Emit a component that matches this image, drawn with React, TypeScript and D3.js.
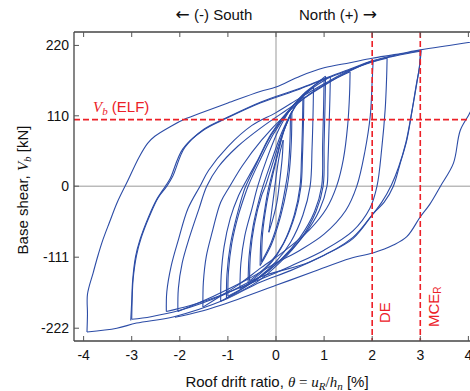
import React from "react";
import * as d3 from "d3";

// axis ticks
const X_TICKS = [-4, -3, -2, -1, 0, 1, 2, 3, 4];
const Y_TICKS = [-222, -111, 0, 110, 220];

// reference levels
const ELF_SHEAR = 104;
const DE_DRIFT = 2;
const MCE_DRIFT = 3;

// hysteresis branches [drift %, base shear kN]
const up015 = [[-0.15, -72], [-0.1, -45], [-0.04, -10], [0.03, 30], [0.09, 55], [0.15, 72]];
const down015 = [[0.15, 72], [0.13, 45], [0.08, 10], [0.02, -25], [-0.06, -50], [-0.15, -72]];
const up030a = [[-0.3, -118], [-0.28, -75], [-0.2, -30], [-0.12, 0], [0.02, 45], [0.16, 85], [0.3, 112]];
const down030a = [[0.3, 112], [0.29, 70], [0.25, 25], [0.2, 0], [0.08, -45], [-0.1, -88], [-0.3, -118]];
const up030b = [[-0.33, -124], [-0.31, -80], [-0.23, -35], [-0.16, -5], [0, 42], [0.15, 84], [0.33, 117]];
const down030b = [[0.33, 117], [0.32, 72], [0.28, 25], [0.23, -2], [0.1, -46], [-0.1, -92], [-0.33, -124]];
const up056a = [[-0.55, -148], [-0.53, -105], [-0.45, -60], [-0.3, -15], [-0.22, 0], [-0.05, 40], [0.15, 85], [0.38, 122], [0.56, 140]];
const down056a = [[0.56, 140], [0.55, 95], [0.53, 45], [0.5, 0], [0.38, -45], [0.15, -90], [-0.15, -122], [-0.55, -148]];
const up056b = [[-0.58, -152], [-0.56, -110], [-0.48, -64], [-0.34, -18], [-0.27, 0], [-0.1, 38], [0.12, 84], [0.36, 120], [0.58, 143]];
const down056b = [[0.58, 143], [0.57, 98], [0.55, 46], [0.52, 0], [0.4, -44], [0.17, -88], [-0.15, -124], [-0.58, -152]];
const up078 = [[-0.75, -160], [-0.73, -120], [-0.65, -78], [-0.5, -35], [-0.38, 0], [-0.18, 45], [0.08, 92], [0.4, 130], [0.78, 155]];
const down078 = [[0.78, 155], [0.77, 112], [0.75, 60], [0.71, 0], [0.56, -45], [0.3, -88], [0, -118], [-0.35, -142], [-0.75, -160]];
const up100a = [[-1.0, -172], [-0.99, -135], [-0.92, -90], [-0.78, -45], [-0.62, -8], [-0.58, 0], [-0.35, 38], [-0.05, 82], [0.3, 120], [0.6, 146], [1.0, 168]];
const down100a = [[1.0, 168], [0.99, 125], [0.97, 65], [0.95, 0], [0.8, -40], [0.5, -80], [0.1, -115], [-0.4, -146], [-1.0, -172]];
const up100b = [[-1.03, -175], [-1.02, -138], [-0.95, -92], [-0.82, -48], [-0.67, -8], [-0.63, 0], [-0.4, 36], [-0.1, 80], [0.3, 121], [0.65, 148], [1.03, 172]];
const down100b = [[1.03, 172], [1.02, 128], [1.0, 66], [0.98, 0], [0.83, -40], [0.52, -82], [0.1, -118], [-0.4, -150], [-1.03, -175]];
const up113 = [[-1.15, -180], [-1.14, -140], [-1.08, -95], [-0.95, -50], [-0.78, -15], [-0.68, 0], [-0.4, 38], [-0.1, 82], [0.3, 122], [0.7, 150], [1.13, 171]];
const down113 = [[1.13, 171], [1.12, 135], [1.1, 85], [1.08, 35], [1.06, 0], [0.9, -38], [0.6, -75], [0.2, -108], [-0.3, -140], [-0.8, -165], [-1.15, -180]];
const up150 = [[-1.52, -189], [-1.51, -150], [-1.45, -110], [-1.32, -70], [-1.15, -25], [-0.96, 0], [-0.7, 32], [-0.3, 72], [0.2, 112], [0.7, 144], [1.1, 163], [1.54, 179]];
const down150 = [[1.54, 179], [1.53, 145], [1.49, 95], [1.4, 42], [1.26, 0], [1.05, -35], [0.7, -68], [0.2, -100], [-0.3, -127], [-0.8, -155], [-1.2, -174], [-1.52, -189]];
const up200 = [[-2.04, -196], [-2.03, -160], [-1.95, -120], [-1.8, -80], [-1.6, -35], [-1.44, 0], [-1.2, 30], [-0.8, 62], [-0.3, 92], [0.2, 118], [0.8, 148], [1.4, 175], [2.02, 197]];
const down200 = [[2.02, 197], [2.0, 165], [1.96, 110], [1.85, 55], [1.68, 0], [1.45, -38], [1.0, -75], [0.5, -100], [0, -120], [-0.6, -146], [-1.3, -172], [-2.04, -196]];
const up230 = [[-2.28, -196], [-2.27, -165], [-2.18, -125], [-2.03, -84], [-1.83, -35], [-1.58, 0], [-1.4, 25], [-1.0, 62], [-0.5, 95], [0, 115], [0.5, 138], [1.0, 160], [1.5, 180], [2.0, 194], [2.31, 200]];
const down230 = [[2.31, 200], [2.3, 170], [2.27, 120], [2.2, 60], [2.1, 0], [1.95, -35], [1.6, -70], [1.0, -100], [0.3, -125], [-0.4, -148], [-1.2, -172], [-1.8, -187], [-2.28, -196]];
const up300a = [[-3.02, -210], [-3.0, -180], [-2.98, -147], [-2.92, -110], [-2.83, -84], [-2.65, -48], [-2.49, -22], [-2.3, 0], [-2.2, 12], [-1.94, 58], [-1.52, 87], [-1.03, 106], [-0.33, 130], [0.5, 152], [1.0, 167], [1.54, 182], [2.0, 195], [2.5, 204], [3.0, 211]];
const down300a = [[3.0, 211], [2.98, 185], [2.93, 162], [2.83, 118], [2.72, 72], [2.58, 35], [2.44, 0], [2.25, -25], [2.03, -42], [1.6, -80], [0.71, -118], [-0.33, -142], [-1.1, -170], [-2.0, -194], [-2.6, -204], [-3.0, -208]];
const up300b = [[-3.0, -208], [-2.99, -175], [-2.97, -145], [-2.9, -108], [-2.8, -80], [-2.62, -45], [-2.45, -18], [-2.27, 0], [-2.15, 15], [-1.9, 60], [-1.5, 89], [-1.0, 108], [-0.3, 132], [0.5, 153], [1.0, 168], [1.54, 183], [2.0, 196], [2.5, 205], [3.02, 212]];
const down300b = [[3.02, 212], [2.98, 185], [2.92, 160], [2.82, 115], [2.7, 68], [2.55, 30], [2.4, 2], [2.2, -25], [2.0, -45], [1.6, -82], [1.0, -108], [0.3, -132], [-0.33, -150], [-1.08, -178], [-2.12, -204], [-2.9, -214], [-3.31, -222], [-3.93, -228]];
const upFinal = [[-3.93, -228], [-3.92, -200], [-3.92, -169], [-3.8, -135], [-3.7, -108], [-3.6, -84], [-3.46, -56], [-3.3, -25], [-3.08, 9], [-2.85, 45], [-2.67, 67], [-2.52, 78], [-2.2, 93], [-1.86, 106], [-1.58, 114], [-1.0, 130], [-0.33, 148], [0, 155], [0.5, 172], [1.0, 185], [1.54, 193], [2.0, 200], [2.5, 206], [3.0, 213], [3.6, 220], [4.3, 228]];
const downFinal = [[4.3, 228], [4.28, 200], [4.2, 160], [4.05, 118], [3.83, 87], [3.69, 36], [3.42, 0], [3.2, -28], [3.0, -48], [2.72, -79], [2.44, -92], [2.03, -104], [1.54, -113], [0.8, -133], [0, -155], [-0.8, -177], [-1.58, -196], [-2.1, -205]];

const branches = [
  up015, down015, up030a, down030a, up030b, down030b,
  up056a, down056a, up056b, down056b, up078, down078,
  up100a, down100a, up100b, down100b, up113, down113,
  up150, down150, up200, down200, up230, down230,
  up300a, down300a, up300b, down300b, upFinal, downFinal,
];

const W = 470;
const H = 391;
const left = 74, top = 32, bottom = 341, right = 478;
const RED = "#ec2027";
const BLUE = "#2c4ca6";
const sans = "'Liberation Sans', Arial, sans-serif";
const serif = "'Liberation Serif', 'Times New Roman', serif";
const arrowFont = "'DejaVu Sans', sans-serif";

export default function App() {
  const x = d3.scaleLinear().domain([-4.2, 4.2]).range([left, right]);
  const y = d3.scaleLinear().domain([-242, 241]).range([bottom, top]);
  const line = d3.line<number[]>()
    .x(d => x(d[0]))
    .y(d => y(d[1]))
    .curve(d3.curveCatmullRom.alpha(0.5));

  return (
    <svg width={W} height={H} style={{ position: "absolute", left: 0, top: 0, background: "#fff" }}>
      <defs>
        <clipPath id="plot">
          <rect x={left} y={top} width={right - left} height={bottom - top} />
        </clipPath>
      </defs>

      {/* zero lines */}
      <line x1={x(0)} x2={x(0)} y1={top} y2={bottom} stroke="#999" strokeWidth={1} />
      <line x1={left} x2={right} y1={y(0)} y2={y(0)} stroke="#999" strokeWidth={1} />

      {/* loops */}
      <g clipPath="url(#plot)" fill="none" stroke={BLUE} strokeWidth={1.1} strokeLinejoin="round">
        {branches.map((b, i) => <path key={i} d={line(b) || ""} />)}
      </g>

      {/* reference lines */}
      <g stroke={RED} strokeWidth={1.6} strokeDasharray="6,3" clipPath="url(#plot)">
        <line x1={left} x2={right} y1={y(ELF_SHEAR)} y2={y(ELF_SHEAR)} />
        <line x1={x(DE_DRIFT)} x2={x(DE_DRIFT)} y1={top} y2={bottom} />
        <line x1={x(MCE_DRIFT)} x2={x(MCE_DRIFT)} y1={top} y2={bottom} />
      </g>

      {/* frame */}
      <g stroke="#444" strokeWidth={1.3}>
        <line x1={left} x2={right} y1={top} y2={top} />
        <line x1={left} x2={right} y1={bottom} y2={bottom} />
        <line x1={left} x2={left} y1={top} y2={bottom} />
      </g>
      <g stroke="#555" strokeWidth={1}>
        {X_TICKS.map(t => (
          <g key={t}>
            <line x1={x(t)} x2={x(t)} y1={top} y2={top + 5} />
            <line x1={x(t)} x2={x(t)} y1={bottom} y2={bottom - 5} />
          </g>
        ))}
        {Y_TICKS.map(t => (
          <line key={t} x1={left} x2={left + 5} y1={y(t)} y2={y(t)} />
        ))}
      </g>

      {/* tick labels */}
      <g fontFamily={sans} fontSize={14} fill="#111">
        {X_TICKS.map(t => (
          <text key={t} x={x(t)} y={bottom + 19} textAnchor="middle">{t}</text>
        ))}
        {Y_TICKS.map(t => (
          <text key={t} x={left - 5} y={y(t) + 5} textAnchor="end">{t}</text>
        ))}
      </g>

      {/* direction labels */}
      <g fontFamily={sans} fontSize={15} fill="#111">
        <text x={214} y={20} textAnchor="middle">
          <tspan fontFamily={arrowFont} fontSize={17}>←</tspan> (-) South
        </text>
        <text x={338} y={20} textAnchor="middle">
          North (+) <tspan fontFamily={arrowFont} fontSize={17}>→</tspan>
        </text>
      </g>

      {/* axis titles */}
      <text x={277} y={387} textAnchor="middle" fontFamily={sans} fontSize={15} fill="#111">
        Roof drift ratio,{" "}
        <tspan fontFamily={serif} fontStyle="italic">θ</tspan>
        <tspan fontFamily={serif}> = </tspan>
        <tspan fontFamily={serif} fontStyle="italic">u</tspan>
        <tspan fontFamily={serif} fontStyle="italic" fontSize={11} dy={3}>R</tspan>
        <tspan fontFamily={serif} dy={-3}>/</tspan>
        <tspan fontFamily={serif} fontStyle="italic">h</tspan>
        <tspan fontFamily={serif} fontStyle="italic" fontSize={11} dy={3}>n</tspan>
        <tspan dy={-3}> [%]</tspan>
      </text>
      <text transform={`translate(28,${190}) rotate(-90)`} textAnchor="middle" fontFamily={sans} fontSize={15} fill="#111">
        Base shear,{" "}
        <tspan fontFamily={serif} fontStyle="italic">V</tspan>
        <tspan fontFamily={serif} fontStyle="italic" fontSize={11} dy={3}>b</tspan>
        <tspan dy={-3}> [kN]</tspan>
      </text>

      {/* reference labels */}
      <text x={93} y={112} fontFamily={sans} fontSize={15} fill={RED}>
        <tspan fontFamily={serif} fontStyle="italic">V</tspan>
        <tspan fontFamily={serif} fontStyle="italic" fontSize={11} dy={3}>b</tspan>
        <tspan dy={-3}> (ELF)</tspan>
      </text>
      <text transform={`translate(${x(DE_DRIFT) + 18},323) rotate(-90)`} fontFamily={sans} fontSize={15} fill={RED}>
        DE
      </text>
      <text transform={`translate(${x(MCE_DRIFT) + 19},327) rotate(-90)`} fontFamily={sans} fontSize={15} fill={RED}>
        MCE<tspan fontSize={10} dy={2}>R</tspan>
      </text>
    </svg>
  );
}
